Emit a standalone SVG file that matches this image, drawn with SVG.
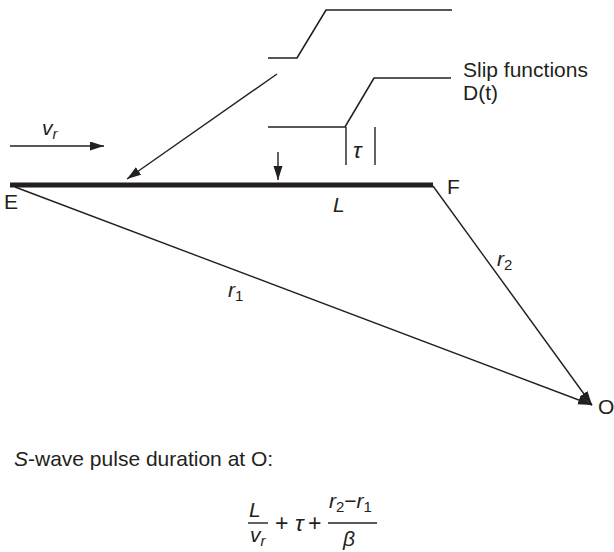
<svg xmlns="http://www.w3.org/2000/svg" width="614" height="552" viewBox="0 0 614 552">
<style>
.t{font-family:"Liberation Sans",Arial,sans-serif;font-size:21px;fill:#231f20}
.i{font-style:italic}
.s{font-size:15px}
.b{font-size:23px}
.ln{stroke:#231f20;stroke-width:1.4;fill:none}
.sf{stroke:#231f20;stroke-width:1.6;fill:none}
</style>
<defs>
<marker id="ah" markerUnits="userSpaceOnUse" markerWidth="16" markerHeight="10" refX="14" refY="4.5" orient="auto">
<path d="M0,0 L14,4.5 L0,9 z" fill="#231f20"/>
</marker>
</defs>
<g id="fault">
<line x1="10" y1="185" x2="433" y2="185" stroke="#231f20" stroke-width="5"/>
</g>
<g id="slip1">
<polyline class="sf" points="268,58 297,58 326,10 452,10"/>
</g>
<g id="slip2">
<polyline class="sf" points="268,127 345,127 374,78 451,78"/>
<line class="ln" x1="346" y1="127" x2="346" y2="165"/>
<line class="ln" x1="375" y1="127" x2="375" y2="165"/>
<text class="t i b" x="353" y="158">τ</text>
</g>
<g id="connectors">
<line class="ln" x1="277" y1="74" x2="127" y2="179" marker-end="url(#ah)"/>
<line class="ln" x1="10" y1="146" x2="104" y2="146" marker-end="url(#ah)"/>
<line class="ln" x1="278" y1="152" x2="278" y2="180" marker-end="url(#ah)"/>
<line class="ln" x1="15" y1="187" x2="592" y2="405" marker-end="url(#ah)"/>
<line class="ln" x1="433" y1="186" x2="592" y2="405" marker-end="url(#ah)"/>
</g>
<g id="labels">
<text class="t" x="463" y="77">Slip functions</text>
<text class="t" x="463" y="100">D(t)</text>
<text class="t i" x="42" y="135">v<tspan class="s" dy="4">r</tspan></text>
<text class="t" x="4" y="209">E</text>
<text class="t" x="447" y="194">F</text>
<text class="t i" x="333" y="212">L</text>
<text class="t i" x="497" y="266">r<tspan class="s" dy="4" font-style="normal">2</tspan></text>
<text class="t i" x="228" y="297">r<tspan class="s" dy="4" font-style="normal">1</tspan></text>
<text class="t" x="598" y="414">O</text>
</g>
<g id="formula">
<text class="t" x="14" y="466"><tspan class="i">S</tspan>-wave pulse duration at O:</text>
<text class="t i" x="249" y="517">L</text>
<line class="ln" x1="248" y1="523" x2="268" y2="523"/>
<text class="t i" x="250" y="542">v<tspan class="s" dy="4">r</tspan></text>
<text class="t b" x="275" y="531">+</text>
<text class="t i b" x="295" y="531">τ</text>
<text class="t b" x="308" y="531">+</text>
<text class="t i" x="329" y="508">r<tspan class="s" dy="4" font-style="normal">2</tspan><tspan dy="-4" font-style="normal">−</tspan>r<tspan class="s" dy="4" font-style="normal">1</tspan></text>
<line class="ln" x1="328" y1="523" x2="377" y2="523"/>
<text class="t i" x="343" y="546">β</text>
</g>
</svg>
